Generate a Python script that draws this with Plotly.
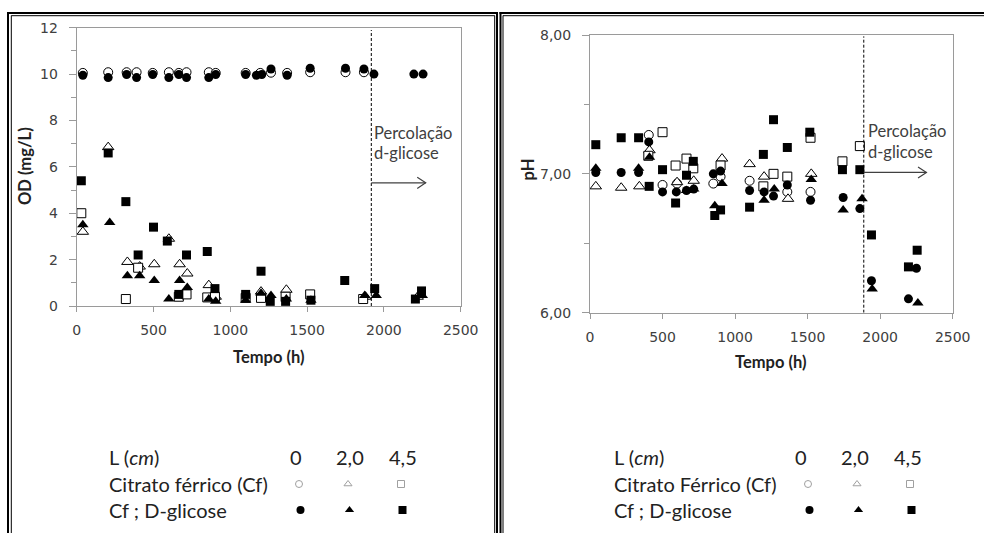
import plotly.graph_objects as go

W, H = 984, 533

# ---------------- DATA ----------------
# Left chart: OD (mg/L) vs Tempo (h)
od_cf0_x = [40, 205, 325, 390, 495, 600, 665, 715, 860, 905, 1100, 1195, 1265, 1370, 1520, 1750, 1870]
od_cf0_y = [10.05, 10.08, 10.08, 10.08, 10.05, 10.08, 10.05, 10.08, 10.08, 10.05, 10.05, 10.05, 10.06, 10.05, 10.08, 10.08, 10.08]
od_cf2_x = [40, 205, 330, 410, 505, 600, 670, 720, 860, 905, 1200, 1365, 1880, 2220]
od_cf2_y = [3.2, 6.85, 1.9, 1.7, 1.8, 2.9, 1.8, 1.4, 0.9, 0.4, 0.62, 0.7, 0.4, 0.4]
od_cf4_x = [30, 320, 400, 665, 715, 850, 900, 1100, 1200, 1360, 1520, 1865]
od_cf4_y = [4.0, 0.3, 1.65, 0.4, 0.5, 0.37, 0.4, 0.35, 0.35, 0.4, 0.5, 0.3]
od_gl0_x = [40, 205, 325, 390, 495, 600, 665, 715, 860, 905, 1100, 1170, 1205, 1265, 1370, 1520, 1750, 1870, 1935, 2195, 2255]
od_gl0_y = [9.95, 9.85, 9.98, 9.85, 9.98, 9.85, 9.98, 9.85, 9.85, 9.98, 9.98, 9.95, 9.98, 10.22, 9.95, 10.25, 10.25, 10.22, 10.0, 10.0, 10.0]
od_gl2_x = [40, 215, 330, 410, 505, 600, 670, 720, 860, 905, 1100, 1200, 1265, 1365, 1525, 1875, 1950, 2250]
od_gl2_y = [3.5, 3.6, 1.3, 1.3, 1.1, 0.3, 1.1, 0.8, 0.3, 0.2, 0.25, 0.55, 0.45, 0.3, 0.25, 0.45, 0.45, 0.45]
od_gl4_x = [30, 205, 320, 400, 500, 590, 665, 715, 850, 900, 1100, 1200, 1260, 1360, 1525, 1745, 1940, 2205, 2245]
od_gl4_y = [5.4, 6.6, 4.5, 2.2, 3.4, 2.8, 0.5, 2.2, 2.35, 0.75, 0.5, 1.5, 0.2, 0.2, 0.25, 1.1, 0.75, 0.3, 0.65]

# Right chart: pH vs Tempo (h)
ph_cf0_x = [405, 500, 600, 850, 900, 1100, 1360, 1520]
ph_cf0_y = [7.28, 6.92, 6.93, 6.93, 6.98, 6.95, 6.87, 6.87]
ph_cf2_x = [40, 215, 340, 410, 600, 715, 910, 1100, 1200, 1365, 1525]
ph_cf2_y = [6.91, 6.90, 6.91, 7.17, 6.94, 6.95, 7.11, 7.07, 6.98, 6.82, 7.00]
ph_cf4_x = [402, 500, 590, 665, 712, 900, 1195, 1265, 1360, 1520, 1740, 1860]
ph_cf4_y = [7.13, 7.30, 7.06, 7.11, 7.04, 7.06, 6.91, 7.00, 6.98, 7.26, 7.09, 7.20]
ph_gl0_x = [40, 215, 335, 405, 500, 595, 665, 715, 850, 900, 1100, 1200, 1265, 1360, 1520, 1745, 1860, 1940, 2195, 2250]
ph_gl0_y = [7.01, 7.01, 7.01, 7.23, 6.87, 6.87, 6.88, 6.89, 7.00, 7.02, 6.88, 6.87, 6.84, 6.92, 6.81, 6.83, 6.75, 6.23, 6.10, 6.32]
ph_gl2_x = [40, 335, 410, 665, 715, 860, 910, 1200, 1270, 1525, 1745, 1875, 1945, 2260]
ph_gl2_y = [7.04, 7.04, 7.12, 6.88, 6.89, 6.77, 6.93, 6.81, 6.89, 6.96, 6.74, 6.82, 6.17, 6.07]
ph_gl4_x = [40, 215, 335, 408, 500, 590, 665, 712, 860, 900, 1100, 1195, 1265, 1360, 1515, 1740, 1860, 1940, 2195, 2255]
ph_gl4_y = [7.21, 7.26, 7.26, 6.91, 7.03, 6.79, 6.99, 7.09, 6.70, 6.74, 6.76, 7.14, 7.39, 7.19, 7.30, 7.03, 7.03, 6.56, 6.33, 6.45]

od_switch = 1918      # start of d-glucose percolation (left)
ph_switch = 1887      # start of d-glucose percolation (right)

x_ticks = [0, 500, 1000, 1500, 2000, 2500]
legend_cols = ["0", "2,0", "4,5"]
legend_rows_left = ["L (<i>cm</i>)", "Citrato férrico (Cf)", "Cf ; D-glicose"]
legend_rows_right = ["L (<i>cm</i>)", "Citrato Férrico (Cf)", "Cf ; D-glicose"]

# ---------------- STYLE ----------------
def px(x):
    return x / W

def py(y):
    return 1 - y / H

SYMS = ["circle", "triangle-up", "square"]
SIZES = [9, 10, 9]
TICK_FONT = dict(family="DejaVu Sans", size=14, color="#404040")
TXT = "Lato"
AX = "#9a9a9a"

fig = go.Figure()

def add_series(xs, ys, k, filled, xa, ya):
    fig.add_trace(go.Scatter(
        x=xs, y=ys, mode="markers", xaxis=xa, yaxis=ya, showlegend=False,
        marker=dict(symbol=SYMS[k], size=SIZES[k],
                    color="black" if filled else "white",
                    line=dict(color="black", width=0 if filled else 1)),
        cliponaxis=False))

left_sets = [(od_cf0_x, od_cf0_y, 0, False), (od_cf2_x, od_cf2_y, 1, False), (od_cf4_x, od_cf4_y, 2, False),
             (od_gl0_x, od_gl0_y, 0, True), (od_gl2_x, od_gl2_y, 1, True), (od_gl4_x, od_gl4_y, 2, True)]
right_sets = [(ph_cf0_x, ph_cf0_y, 0, False), (ph_cf2_x, ph_cf2_y, 1, False), (ph_cf4_x, ph_cf4_y, 2, False),
              (ph_gl0_x, ph_gl0_y, 0, True), (ph_gl2_x, ph_gl2_y, 1, True), (ph_gl4_x, ph_gl4_y, 2, True)]
for xs, ys, k, f in left_sets:
    add_series(xs, ys, k, f, "x", "y")
for xs, ys, k, f in right_sets:
    add_series(xs, ys, k, f, "x2", "y2")

# legend markers drawn on an independent full-page pixel axis
for off_x, rows in [(0, legend_rows_left), (509, legend_rows_right)]:
    col_m = [299 + off_x, 348 + off_x, 401 + off_x]
    for k in range(3):
        fig.add_trace(go.Scatter(
            x=[col_m[k]], y=[484], mode="markers", xaxis="x3", yaxis="y3", showlegend=False,
            marker=dict(symbol=SYMS[k], size=7, color="white", line=dict(color="#a0a0a0", width=1))))
        fig.add_trace(go.Scatter(
            x=[col_m[k] + 1.5], y=[510], mode="markers", xaxis="x3", yaxis="y3", showlegend=False,
            marker=dict(symbol=SYMS[k], size=8, color="black", line=dict(width=0))))

def xaxis_cfg(dom, anchor):
    return dict(domain=dom, anchor=anchor, range=[0, 2500], tickvals=x_ticks,
                showgrid=False, zeroline=False, showline=True, linecolor=AX, linewidth=1,
                mirror=True, ticks="outside", ticklen=5, tickcolor=AX,
                tickfont=TICK_FONT, ticklabelstandoff=6, automargin=False)

layout = dict(
    width=W, height=H, margin=dict(l=0, r=0, t=0, b=0, pad=0, autoexpand=False),
    paper_bgcolor="white", plot_bgcolor="rgba(0,0,0,0)", separators=",.",
    xaxis=xaxis_cfg([76.7 / W, 460.7 / W], "y"),
    yaxis=dict(domain=[py(306), py(27.7)], anchor="x", range=[0, 12], dtick=2,
               showgrid=False, zeroline=False, showline=True, linecolor=AX, linewidth=1,
               mirror=True, ticks="outside", ticklen=7, tickcolor=AX,
               minor=dict(dtick=1, ticks="outside", ticklen=5, tickcolor=AX),
               tickfont=TICK_FONT, ticklabelstandoff=8, automargin=False),
    xaxis2=xaxis_cfg([590 / W, 952.7 / W], "y2"),
    yaxis2=dict(domain=[py(312.7), py(35)], anchor="x2", range=[6, 8], dtick=1,
                tickformat=".2f", showgrid=False, zeroline=False, showline=True,
                linecolor=AX, linewidth=1, mirror=True, ticks="outside", ticklen=7, tickcolor=AX,
                minor=dict(dtick=0.5, ticks="outside", ticklen=5, tickcolor=AX),
                tickfont=TICK_FONT, ticklabelstandoff=8, automargin=False),
    xaxis3=dict(domain=[0, 1], range=[0, W], visible=False, anchor="y3", fixedrange=True),
    yaxis3=dict(domain=[0, 1], range=[H, 0], visible=False, anchor="x3", fixedrange=True),
)
fig.update_layout(**layout)

shapes = []
def vline(x, w):
    shapes.append(dict(type="line", xref="paper", yref="paper", x0=px(x), x1=px(x),
                       y0=py(H + 5), y1=py(12 if w > 1 else 15.5), line=dict(color="black", width=w)))

def hline(y, x0, x1, w):
    shapes.append(dict(type="line", xref="paper", yref="paper", x0=px(x0), x1=px(x1),
                       y0=py(y), y1=py(y), line=dict(color="black", width=w)))

vline(8, 2); vline(11.3, 1); vline(497, 2); vline(494.7, 1)
vline(500.5, 2); vline(503, 1)
hline(13, 7, 498, 2); hline(15.7, 11.3, 494.7, 1)
hline(13, 499.5, W + 5, 2); hline(15.7, 503, W + 5, 1)

shapes.append(dict(type="line", xref="x", yref="y", x0=od_switch, x1=od_switch, y0=0, y1=11.9,
                   line=dict(color="black", width=1, dash="3px,2px")))
shapes.append(dict(type="line", xref="x2", yref="y2", x0=ph_switch, x1=ph_switch, y0=6, y1=7.99,
                   line=dict(color="black", width=1, dash="3px,2px")))

def arrow(xr, yr, x0, x1, y, dx, dy):
    shapes.append(dict(type="line", xref=xr, yref=yr, x0=x0, x1=x1, y0=y, y1=y,
                       line=dict(color="#404040", width=1.2)))
    shapes.append(dict(type="path", xref=xr, yref=yr,
                       path=f"M {x1 - dx},{y + dy} L {x1},{y} L {x1 - dx},{y - dy}",
                       line=dict(color="#404040", width=1.2)))

arrow("x", "y", od_switch, 2272, 5.31, 55, 0.24)
arrow("x2", "y2", ph_switch, 2319, 7.01, 58, 0.04)
fig.update_layout(shapes=shapes)

ann = []
def text(x, y, s, size=15, bold=False, anchor="left", angle=0, color="#404040", family=TXT):
    ann.append(dict(xref="paper", yref="paper", x=px(x), y=py(y), text=f"<b>{s}</b>" if bold else s,
                    showarrow=False, xanchor=anchor, yanchor="middle", textangle=angle,
                    font=dict(family=family, size=size, color=color)))

text(268.7, 357, "Tempo (h)", 16.5, True, "center", color="#222")
text(771, 362, "Tempo (h)", 16.5, True, "center", color="#222")
text(25, 166, "OD (mg/L)", 16.5, True, "center", -90, "#222")
text(527.5, 170, "pH", 16.5, True, "center", -90, "#222")

text(372, 133, "Percolação", 16.5)
text(372, 153, "d-glicose", 16.5)
text(866, 131, "Percolação", 16.5)
text(866, 152, "d-glicose", 16.5)

for off, rows in [(0, legend_rows_left), (505, legend_rows_right)]:
    for r, yy in zip(rows, [457, 484, 510]):
        text(107 + off, yy, r, 20, color="#222")
    for c, xx in zip(legend_cols, [296, 350, 403]):
        text(xx + off, 457, c, 20, anchor="center", color="#222")
fig.update_layout(annotations=ann)

fig.write_html("out.html", config={"displayModeBar": False},
               post_script="document.body.style.margin='0';document.body.style.padding='0';"
                           "document.documentElement.style.overflow='hidden';")
